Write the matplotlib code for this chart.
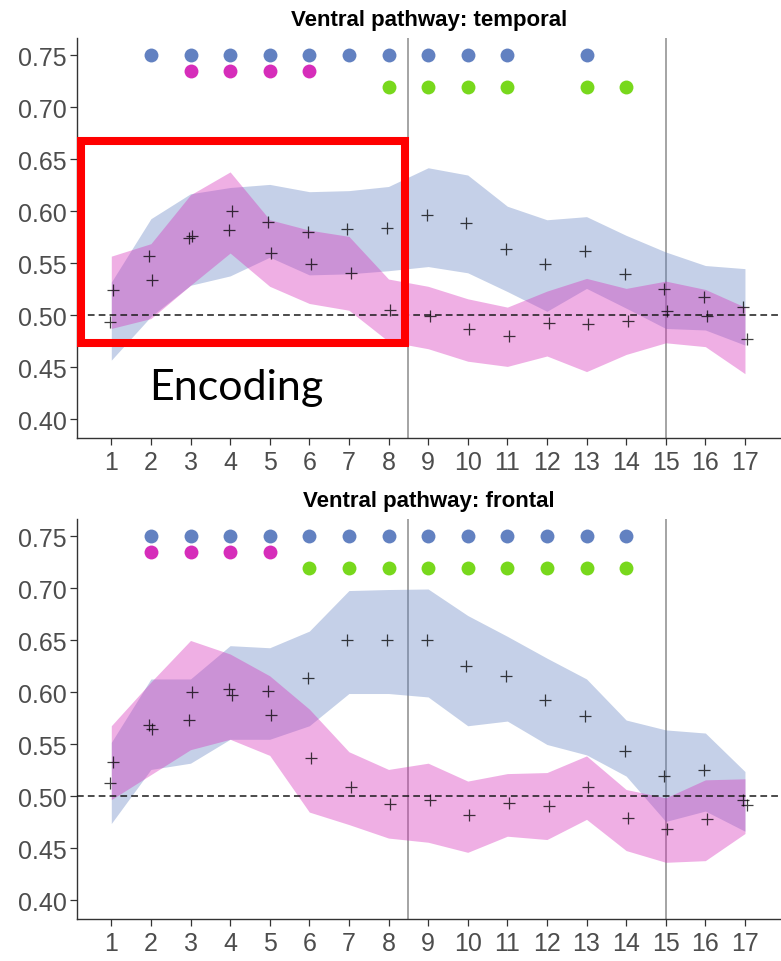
import matplotlib
matplotlib.use("Agg")
import matplotlib.pyplot as plt
from matplotlib.patches import Rectangle

# Time windows on the x axis
windows = list(range(1, 18))

# Ventral pathway: temporal
temp_blue_mean = [0.494, 0.557, 0.574, 0.582, 0.590, 0.580, 0.583, 0.584, 0.597,
                  0.589, 0.564, 0.549, 0.562, 0.540, 0.525, 0.518, 0.508]
temp_blue_lo = [0.457, 0.499, 0.529, 0.538, 0.556, 0.539, 0.540, 0.543, 0.547,
                0.541, 0.523, 0.504, 0.526, 0.507, 0.4875, 0.486, 0.4715]
temp_blue_hi = [0.532, 0.593, 0.617, 0.623, 0.626, 0.619, 0.620, 0.624, 0.642,
                0.635, 0.605, 0.592, 0.595, 0.577, 0.561, 0.548, 0.545]
temp_pink_mean = [0.524, 0.534, 0.576, 0.600, 0.560, 0.549, 0.541, 0.505, 0.499,
                  0.487, 0.480, 0.493, 0.492, 0.495, 0.504, 0.499, 0.477]
temp_pink_lo = [0.4875, 0.497, 0.529, 0.560, 0.528, 0.5115, 0.505, 0.475, 0.468,
                0.456, 0.451, 0.461, 0.446, 0.4625, 0.4737, 0.470, 0.444]
temp_pink_hi = [0.557, 0.569, 0.616, 0.638, 0.592, 0.582, 0.576, 0.535, 0.528,
                0.516, 0.508, 0.5234, 0.5356, 0.526, 0.533, 0.525, 0.508]
temp_sig_blue = [2, 3, 4, 5, 6, 7, 8, 9, 10, 11, 13]
temp_sig_pink = [3, 4, 5, 6]
temp_sig_green = [8, 9, 10, 11, 13, 14]

# Ventral pathway: frontal
front_blue_mean = [0.513, 0.569, 0.5735, 0.603, 0.601, 0.614, 0.650, 0.6505, 0.650,
                   0.625, 0.616, 0.593, 0.577, 0.544, 0.520, 0.525, 0.497]
front_blue_lo = [0.474, 0.526, 0.532, 0.555, 0.555, 0.568, 0.599, 0.599, 0.5957,
                 0.568, 0.5725, 0.550, 0.540, 0.5196, 0.476, 0.486, 0.4666]
front_blue_hi = [0.552, 0.613, 0.613, 0.645, 0.643, 0.659, 0.698, 0.699, 0.6995,
                 0.674, 0.654, 0.633, 0.613, 0.5735, 0.564, 0.561, 0.524]
front_pink_mean = [0.533, 0.565, 0.600, 0.5975, 0.578, 0.537, 0.509, 0.493, 0.4965,
                   0.482, 0.494, 0.491, 0.509, 0.479, 0.469, 0.4785, 0.492]
front_pink_lo = [0.497, 0.521, 0.545, 0.555, 0.5395, 0.485, 0.473, 0.460, 0.456,
                 0.4463, 0.4618, 0.4586, 0.478, 0.448, 0.4367, 0.4383, 0.4644]
front_pink_hi = [0.568, 0.610, 0.650, 0.637, 0.616, 0.584, 0.543, 0.526, 0.532,
                 0.5148, 0.522, 0.523, 0.539, 0.5067, 0.4987, 0.516, 0.517]
front_sig_blue = list(range(2, 15))
front_sig_pink = [2, 3, 4, 5]
front_sig_green = list(range(6, 15))

y_ticks = [0.40, 0.45, 0.50, 0.55, 0.60, 0.65, 0.70, 0.75]

BLUE = "#6281C1"
PINK = "#D62DBA"
GREEN = "#78D81C"


def draw_panel(ax, title, blue, pink, sig):
    b_mean, b_lo, b_hi = blue
    p_mean, p_lo, p_hi = pink
    s_blue, s_pink, s_green = sig

    for xv in (8.5, 15):
        ax.axvline(xv, color="#8c8c8c", lw=1.1, zorder=1)

    ax.fill_between(windows, b_lo, b_hi, color=BLUE, alpha=0.37, lw=0, zorder=2)
    ax.fill_between(windows, p_lo, p_hi, color=PINK, alpha=0.38, lw=0, zorder=3)

    ax.axhline(0.5, color="#1a1a1a", lw=1.1, ls=(0, (4.4, 2.7)), zorder=4)

    ax.plot([w - 0.04 for w in windows], b_mean, ls="none", marker="+", ms=9,
            mew=0.9, color="black", alpha=0.75, zorder=5)
    ax.plot([w + 0.04 for w in windows], p_mean, ls="none", marker="+", ms=9,
            mew=0.9, color="black", alpha=0.75, zorder=5)

    ax.scatter(s_blue, [0.75] * len(s_blue), s=100, color=BLUE, lw=0, zorder=6)
    ax.scatter(s_pink, [0.735] * len(s_pink), s=100, color=PINK, lw=0, zorder=6)
    ax.scatter(s_green, [0.72] * len(s_green), s=100, color=GREEN, lw=0, zorder=6)

    ax.set_xlim(0.146, 17.91)
    ax.set_ylim(0.3822, 0.7668)
    ax.set_xticks(windows)
    ax.set_yticks(y_ticks)
    ax.set_yticklabels([f"{v:.2f}" for v in y_ticks])
    for side in ("top", "right"):
        ax.spines[side].set_visible(False)
    for side in ("left", "bottom"):
        ax.spines[side].set_color("#333333")
        ax.spines[side].set_linewidth(1.0)
    ax.tick_params(direction="out", length=5, width=0.9, color="#333333",
                   labelcolor="#4D4D4D", labelsize=18)
    ax.tick_params(axis="y", pad=2.5)
    ax.tick_params(axis="x", pad=3.5)
    ax.set_title(title, fontsize=16, fontweight="bold", pad=9.4,
                 family="Liberation Sans")


plt.rcParams["font.family"] = ["Liberation Sans", "DejaVu Sans"]

fig = plt.figure(figsize=(7.81, 9.62), dpi=100)
ax_top = fig.add_axes([0.0992, 0.5437, 0.9008, 0.4158])
ax_bot = fig.add_axes([0.0992, 0.04366, 0.9008, 0.4158])

draw_panel(ax_top, "Ventral pathway: temporal",
           (temp_blue_mean, temp_blue_lo, temp_blue_hi),
           (temp_pink_mean, temp_pink_lo, temp_pink_hi),
           (temp_sig_blue, temp_sig_pink, temp_sig_green))
draw_panel(ax_bot, "Ventral pathway: frontal",
           (front_blue_mean, front_blue_lo, front_blue_hi),
           (front_pink_mean, front_pink_lo, front_pink_hi),
           (front_sig_blue, front_sig_pink, front_sig_green))

# "Encoding" highlight box drawn over the top panel
fig.patches.append(Rectangle((0.1031, 0.6427), 0.4155, 0.2100, transform=fig.transFigure,
                             fill=False, edgecolor="#FF0000", lw=5.8, zorder=10))
fig.text(236 / 781, (962 - 400) / 962, "Encoding", ha="center", va="baseline",
         fontsize=31, family="Lato", color="black")

fig.savefig("out.png", dpi=100)
